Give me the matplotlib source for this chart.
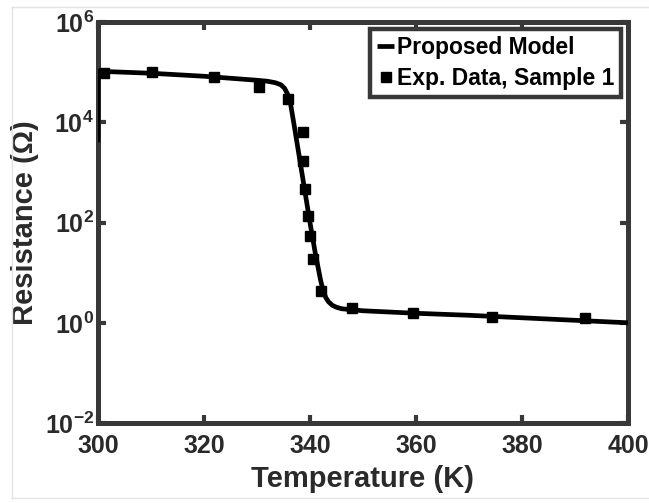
import numpy as np
import matplotlib
matplotlib.use("Agg")
import matplotlib.pyplot as plt
from matplotlib.lines import Line2D

plt.rcParams['font.family'] = ['Liberation Sans', 'DejaVu Sans']
plt.rcParams['font.weight'] = 'bold'
plt.rcParams['mathtext.fontset'] = 'custom'
plt.rcParams['mathtext.rm'] = 'Liberation Sans:bold'
plt.rcParams['mathtext.bf'] = 'Liberation Sans:bold'
plt.rcParams['mathtext.it'] = 'Liberation Sans:bold:italic'

# model curve (T in K, log10 of R in ohm)
model_T = [300.0, 300.0, 305, 310, 315, 320, 325, 330, 332, 333.5, 334.5, 335.2,
           335.7, 336.2, 337.0, 338.0, 339.0, 340.0, 341.0, 342.0, 342.5, 343.0,
           343.5, 344.2, 345.0, 346.0, 348, 350, 360, 370, 380, 390, 400]
model_logR = [3.6, 5.02, 5.00, 4.98, 4.95, 4.92, 4.88, 4.84, 4.82, 4.79, 4.75, 4.68,
              4.58, 4.45, 3.95, 3.30, 2.65, 2.00, 1.39, 0.85, 0.63, 0.50,
              0.42, 0.35, 0.31, 0.28, 0.26, 0.24, 0.19, 0.15, 0.10, 0.05, 0.0]

# measured points, sample 1
exp_T = [301.2, 310.2, 321.9, 330.4, 335.9, 338.7, 338.7, 339.1, 339.7, 340.0,
         340.6, 342.0, 348.0, 359.5, 374.4, 391.8]
exp_logR = [4.98, 5.01, 4.91, 4.71, 4.46, 3.81, 3.23, 2.68, 2.14, 1.73,
            1.27, 0.64, 0.30, 0.19, 0.12, 0.10]

model_R = 10.0 ** np.array(model_logR)
exp_R = 10.0 ** np.array(exp_logR)

frame_col = '#383838'

fig = plt.figure(figsize=(6.49, 5.03), dpi=100)
ax = fig.add_axes([0.151, 0.159, 0.8166, 0.797])

ax.plot(model_T, model_R, color='black', lw=3.4, solid_capstyle='butt',
        label='Proposed Model', zorder=3)
ax.plot(exp_T, exp_R, linestyle='none', marker='s', ms=7.5, color='black',
        label='Exp. Data, Sample 1', zorder=4)

ax.set_yscale('log')
ax.set_xlim(300, 400)
ax.set_ylim(1e-2, 1e6)
ax.set_xticks([300, 320, 340, 360, 380, 400])
ax.set_yticks([1e-2, 1e0, 1e2, 1e4, 1e6])
ax.set_yticklabels([r'$\mathbf{10^{-2}}$', r'$\mathbf{10^{0}}$', r'$\mathbf{10^{2}}$',
                    r'$\mathbf{10^{4}}$', r'$\mathbf{10^{6}}$'])
ax.minorticks_off()

ax.tick_params(axis='both', which='major', direction='in', length=6, width=3,
               color=frame_col, top=True, right=True, labelsize=18)
ax.tick_params(axis='x', pad=8)
ax.tick_params(axis='y', pad=3)
for s in ax.spines.values():
    s.set_linewidth(3.6)
    s.set_color(frame_col)

ax.set_xlabel('Temperature (K)', fontsize=21, fontweight='bold', labelpad=5,
              color='#2a2a2a')
ax.set_ylabel('Resistance (\u03a9)', fontsize=21, fontweight='bold', labelpad=4,
              color='#2a2a2a')
for lab in ax.get_xticklabels() + ax.get_yticklabels():
    lab.set_color('#2a2a2a')

leg = ax.legend(loc='upper right', fontsize=16.5, handlelength=0.75,
                handletextpad=0.12, borderpad=0.3, labelspacing=0.35,
                borderaxespad=0.3, fancybox=False, framealpha=1,
                edgecolor=frame_col)
leg.get_frame().set_linewidth(3.2)
for t in leg.get_texts():
    t.set_fontweight('bold')

# light screenshot border
fig.add_artist(Line2D([12 / 649, 1], [1 - 7 / 503, 1 - 7 / 503],
                      transform=fig.transFigure, color='#e2e2e2', lw=1))
fig.add_artist(Line2D([12 / 649, 1], [5 / 503, 5 / 503],
                      transform=fig.transFigure, color='#e2e2e2', lw=1))
fig.add_artist(Line2D([12 / 649, 12 / 649], [5 / 503, 1 - 7 / 503],
                      transform=fig.transFigure, color='#e2e2e2', lw=1))

fig.savefig('out.png', dpi=100)
